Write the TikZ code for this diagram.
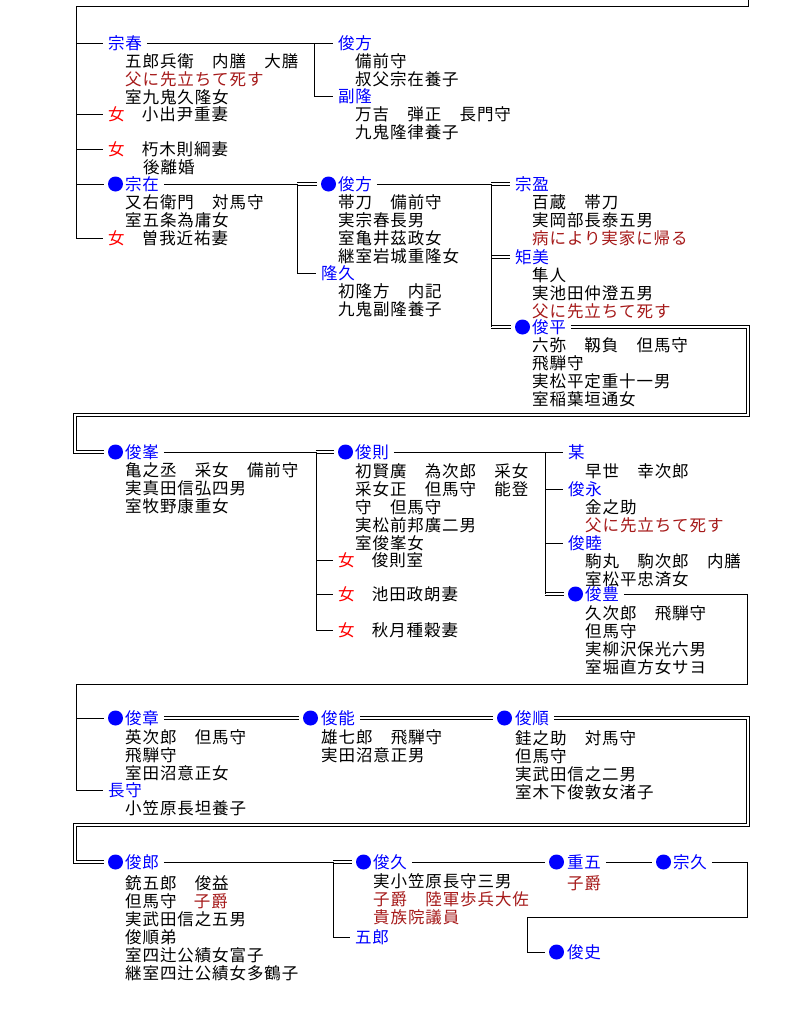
\documentclass[tikz,border=0pt]{standalone}
\usepackage{fontspec}
\setmainfont{Noto Sans CJK JP}[LetterSpace=5.5]
\definecolor{nmblue}{RGB}{0,0,255}
\definecolor{dred}{RGB}{165,25,25}
\definecolor{fred}{RGB}{255,0,0}
\newcommand\rd[1]{\textcolor{dred}{#1}}
\newcommand\fm{\textcolor{fred}{女}}
\tikzset{
 ln/.style={draw=black, line width=0.8pt},
 dbl/.style={draw=black, double=white, double distance=2.2pt, line width=0.8pt},
 nm/.style={anchor=base west, inner sep=0pt, outer xsep=5pt, outer ysep=0pt, text height=14.52pt, text depth=1.98pt, text=nmblue, font=\fontsize{16.5}{18}\selectfont},
 fem/.style={nm, text=black},
 txt/.style={anchor=base west, inner sep=0pt, text=black, font=\fontsize{16.5}{18}\selectfont},
 dot/.style={circle, fill=nmblue, minimum size=15pt, inner sep=0pt, outer sep=4.5pt},
}
\newcommand\Nm[5][nm]{\node[#1] (#2) at ({#3-5},{#4+6.27}) {#5};}
\newcommand\Dt[3]{\node[dot] (#1) at ({#2+7.5},{#3}) {};}
\newcommand\Lines[4]{\foreach \t [count=\i from 0] in {#4} {\node[txt] (#1-\i) at (#2,{#3+6.27+18*\i}) {\t};}}
\begin{document}
\begin{tikzpicture}[x=1pt,y=-1pt]
\useasboundingbox (0,0) rectangle (794,1020);
% ---------- section 1 ----------
\Nm{sochun}{108}{43}{宗春}
\Lines{sochunL}{125}{61}{五郎兵衛　内膳　大膳,\rd{父に先立ちて死す},室九鬼久隆女}
\Nm[fem]{f1}{108}{114}{\fm　小出尹重妻}
\Nm[fem]{f2}{108}{149}{\fm　朽木則綱妻}
\Lines{f2L}{143}{167}{後離婚}
\Dt{sozaiD}{108}{184}
\Nm{sozai}{125}{184}{宗在}
\Lines{sozaiL}{125}{202}{又右衛門　対馬守,室五条為庸女}
\Nm[fem]{f3}{108}{238}{\fm　曽我近祐妻}
\Nm{tkA}{338}{43}{俊方}
\Lines{tkAL}{355}{61}{備前守,叔父宗在養子}
\Nm{fukutaka}{338}{96}{副隆}
\Lines{fukutakaL}{355}{114}{万吉　弾正　長門守,九鬼隆律養子}
\Dt{tkBD}{321}{184}
\Nm{tkB}{338}{184}{俊方}
\Lines{tkBL}{338}{202}{帯刀　備前守,実宗春長男,室亀井茲政女,継室岩城重隆女}
\Nm{takahisa}{321}{273}{隆久}
\Lines{takahisaL}{338}{291}{初隆方　内記,九鬼副隆養子}
\Nm{soei}{515}{184}{宗盈}
\Lines{soeiL}{532}{202}{百蔵　帯刀,実岡部長泰五男,\rd{病により実家に帰る}}
\Nm{norimi}{515}{257}{矩美}
\Lines{norimiL}{532}{275}{隼人,実池田仲澄五男,\rd{父に先立ちて死す}}
\Dt{shunpeiD}{515}{327}
\Nm{shunpei}{532}{327}{俊平}
\Lines{shunpeiL}{532}{345}{六弥　靱負　但馬守,飛騨守,実松平定重十一男,室稲葉垣通女}
% ---------- section 2 ----------
\Dt{shunpoD}{108}{452}
\Nm{shunpo}{125}{452}{俊峯}
\Lines{shunpoL}{125}{470}{亀之丞　采女　備前守,実真田信弘四男,室牧野康重女}
\Dt{shunsokuD}{338}{452}
\Nm{shunsoku}{355}{452}{俊則}
\Lines{shunsokuL}{355}{471}{初賢廣　為次郎　采女,采女正　但馬守　能登,守　但馬守,実松前邦廣二男,室俊峯女}
\Nm[fem]{f4}{338}{560}{\fm　俊則室}
\Nm[fem]{f5}{338}{594}{\fm　池田政朗妻}
\Nm[fem]{f6}{338}{630}{\fm　秋月種穀妻}
\Nm{bo}{568}{452}{某}
\Lines{boL}{585}{471}{早世　幸次郎}
\Nm{toshinaga}{568}{489}{俊永}
\Lines{toshinagaL}{585}{507}{金之助,\rd{父に先立ちて死す}}
\Nm{toshimutsu}{568}{543}{俊睦}
\Lines{toshimutsuL}{585}{561}{駒丸　駒次郎　内膳,室松平忠済女}
\Dt{shunhoD}{568}{594}
\Nm{shunho}{585}{594}{俊豊}
\Lines{shunhoL}{585}{613}{久次郎　飛騨守,但馬守,実柳沢保光六男,室堀直方女サヨ}
% ---------- section 3 ----------
\Dt{shunshoD}{108}{718}
\Nm{shunsho}{125}{718}{俊章}
\Lines{shunshoL}{125}{737}{英次郎　但馬守,飛騨守,室田沼意正女}
\Nm{nagamori}{108}{790}{長守}
\Lines{nagamoriL}{125}{808}{小笠原長坦養子}
\Dt{shunnoD}{303}{718}
\Nm{shunno}{321}{718}{俊能}
\Lines{shunnoL}{321}{737}{雄七郎　飛騨守,実田沼意正男}
\Dt{shunjunD}{497}{718}
\Nm{shunjun}{515}{718}{俊順}
\Lines{shunjunL}{515}{738}{銈之助　対馬守,但馬守,実武田信之二男,室木下俊敦女渚子}
% ---------- section 4 ----------
\Dt{shunroD}{108}{862}
\Nm{shunro}{125}{862}{俊郎}
\Lines{shunroL}{125}{883}{銃五郎　俊益,但馬守　\rd{子爵},実武田信之五男,俊順弟,室四辻公績女富子,継室四辻公績女多鶴子}
\Dt{shunkyuD}{356}{862}
\Nm{shunkyu}{373}{862}{俊久}
\Lines{shunkyuL}{373}{881}{実小笠原長守三男,\rd{子爵　陸軍歩兵大佐},\rd{貴族院議員}}
\Nm{goro}{355}{937}{五郎}
\Dt{jugoD}{549}{862}
\Nm{jugo}{567}{862}{重五}
\Lines{jugoL}{567}{883}{\rd{子爵}}
\Dt{sokyuD}{656}{862}
\Nm{sokyu}{673}{862}{宗久}
\Dt{shunshiD}{549}{952}
\Nm{shunshi}{567}{952}{俊史}
% ---------- coordinates ----------
\coordinate (t0) at (748,0);
\coordinate (t1) at (76,6);
\coordinate (t2) at (76,238);
\coordinate (b5) at (314,43);  \coordinate (b5e) at (314,96);
\coordinate (b6) at (297,184); \coordinate (b6e) at (297,273);
\coordinate (b7) at (491,184); \coordinate (b7e) at (491,327);
\coordinate (r1) at (748,415); \coordinate (l1) at (75,415);
\coordinate (b2) at (316,452); \coordinate (b2e) at (316,630);
\coordinate (b3) at (545,452); \coordinate (b3e) at (545,594);
\coordinate (r2) at (747,684); \coordinate (l2) at (76,684);
\coordinate (r3) at (748,825); \coordinate (l3) at (75,825);
\coordinate (b4) at (333,862); \coordinate (b4e) at (333,937);
\coordinate (r4) at (747,917); \coordinate (l4) at (527,917);
% ---------- double connectors ----------
\draw[dbl] (b6) -- (tkBD.west);
\draw[dbl] (b7) -- (soei.west);
\draw[dbl] (b7 |- norimi.west) -- (norimi.west);
\draw[dbl] (b7e) -- (shunpeiD.west);
\draw[dbl] (shunpei.east) -| (r1) -- (l1) |- (shunpoD.west);
\draw[dbl] (b2) -- (shunsokuD.west);
\draw[dbl] (b3e) -- (shunhoD.west);
\draw[dbl] (shunsho.east) -- (shunnoD.west);
\draw[dbl] (shunno.east) -- (shunjunD.west);
\draw[dbl] (shunjun.east) -| (r3) -- (l3) |- (shunroD.west);
\draw[dbl] (b4) -- (shunkyuD.west);
% ---------- single connectors ----------
\draw[ln] (t0) |- (t1) -- (t2);
\foreach \n in {sochun,f1,f2,sozaiD,f3} \draw[ln] (t1 |- \n.west) -- (\n.west);
\draw[ln] (sochun.east) -- (b5) -- (b5e) -- (fukutaka.west);
\draw[ln] (b5) -- (tkA.west);
\draw[ln] (sozai.east) -- (b6) -- (b6e) -- (takahisa.west);
\draw[ln] (tkB.east) -- (b7) -- (b7e);
\draw[ln] (shunpo.east) -- (b2) -- (b2e) -- (f6.west);
\draw[ln] (b2 |- f4.west) -- (f4.west);
\draw[ln] (b2 |- f5.west) -- (f5.west);
\draw[ln] (shunsoku.east) -- (b3) -- (b3e);
\draw[ln] (b3) -- (bo.west);
\draw[ln] (b3 |- toshinaga.west) -- (toshinaga.west);
\draw[ln] (b3 |- toshimutsu.west) -- (toshimutsu.west);
\draw[ln] (shunho.east) -| (r2) -- (l2) |- (nagamori.west);
\draw[ln] (l2 |- shunshoD.west) -- (shunshoD.west);
\draw[ln] (shunro.east) -- (b4) -- (b4e) -- (goro.west);
\draw[ln] (shunkyu.east) -- (jugoD.west);
\draw[ln] (jugo.east) -- (sokyuD.west);
\draw[ln] (sokyu.east) -| (r4) -- (l4) |- (shunshiD.west);
\end{tikzpicture}
\end{document}
